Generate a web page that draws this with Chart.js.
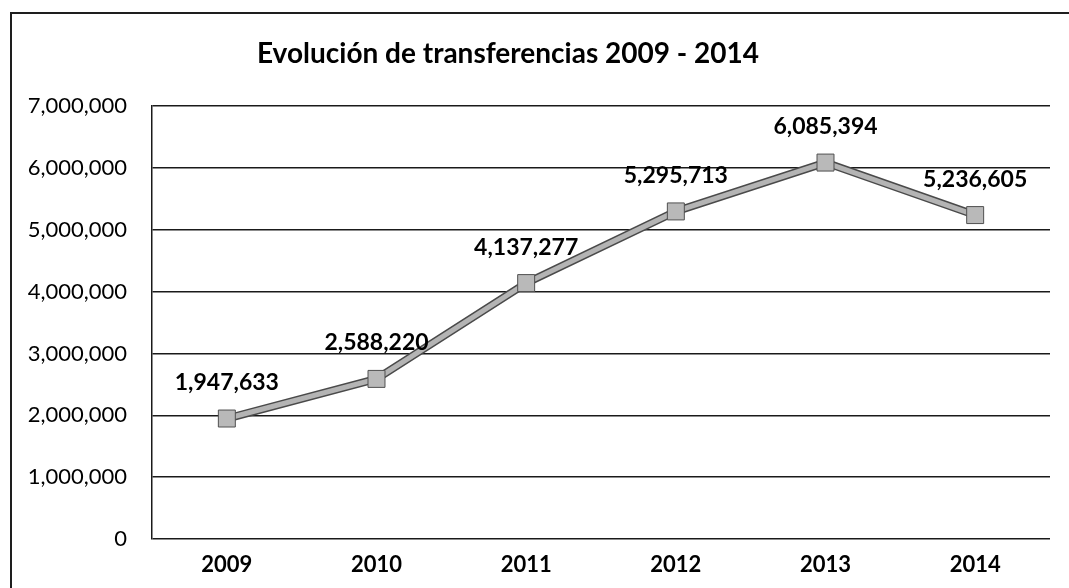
<!DOCTYPE html>
<html>
<head>
<meta charset="utf-8">
<title>Evolución de transferencias</title>
<script src="https://cdn.jsdelivr.net/npm/chart.js@4/dist/chart.umd.min.js"></script>
<style>
    body { margin: 0; background: #fff; overflow: hidden; }
    #frame {
        position: absolute;
        left: 10px;
        top: 12px;
        width: 1100px;
        height: 620px;
        border-left: 2px solid #1e1e1e;
        border-top: 2px solid #1e1e1e;
    }
    #chart { position: absolute; left: 0; top: 0; }
</style>
</head>
<body>
<div id="frame"></div>
<canvas id="chart" width="1069" height="588"></canvas>
<script>
    var years = ['2009', '2010', '2011', '2012', '2013', '2014'];
    var transferencias = [1947633, 2588220, 4137277, 5295713, 6085394, 5236605];
    var yTicks = [0, 1000000, 2000000, 3000000, 4000000, 5000000, 6000000, 7000000];

    var titleText = 'Evolución de transferencias 2009 - 2014';

    function formatNumber(n) {
        return n.toLocaleString('en-US');
    }

    // title sits a bit left of the plot centre
    var titlePlugin = {
        id: 'titleText',
        afterDraw: function (chart) {
            var ctx = chart.ctx;
            ctx.save();
            ctx.fillStyle = '#000';
            ctx.font = 'bold 28px Lato';
            ctx.textAlign = 'center';
            ctx.textBaseline = 'alphabetic';
            ctx.fillText(titleText, 508, 63);
            ctx.restore();
        }
    };

    // dark edge under the grey line
    var lineEdge = {
        id: 'lineEdge',
        beforeDatasetDraw: function (chart, args) {
            var pts = args.meta.data;
            var ctx = chart.ctx;
            ctx.save();
            ctx.strokeStyle = '#4a4a4a';
            ctx.lineWidth = 8;
            ctx.lineJoin = 'round';
            ctx.beginPath();
            pts.forEach(function (p, i) {
                if (i == 0) ctx.moveTo(p.x, p.y);
                else ctx.lineTo(p.x, p.y);
            });
            ctx.stroke();
            ctx.restore();
        }
    };

    var valueLabels = {
        id: 'valueLabels',
        afterDatasetsDraw: function (chart) {
            var ctx = chart.ctx;
            var meta = chart.getDatasetMeta(0);
            ctx.save();
            ctx.fillStyle = '#000';
            ctx.font = 'bold 23px Lato';
            ctx.textAlign = 'center';
            ctx.textBaseline = 'middle';
            meta.data.forEach(function (p, i) {
                ctx.fillText(formatNumber(transferencias[i]), p.x, p.y - 36);
            });
            ctx.restore();
        }
    };

    new Chart(document.getElementById('chart').getContext('2d'), {
        type: 'line',
        data: {
            labels: years,
            datasets: [
                {
                    label: 'Transferencias',
                    data: transferencias,
                    borderColor: '#b4b4b4',
                    borderWidth: 5,
                    tension: 0,
                    pointStyle: 'rect',
                    pointRadius: 12,
                    pointHoverRadius: 12,
                    pointBackgroundColor: '#b9b9b9',
                    pointBorderColor: '#505050',
                    pointBorderWidth: 1
                }
            ]
        },
        options: {
            responsive: false,
            animation: false,
            devicePixelRatio: 1,
            layout: {
                padding: {left: 0, top: 106, right: 19, bottom: 0}
            },
            plugins: {
                legend: {display: false},
                title: {display: false},
                tooltip: {enabled: false}
            },
            scales: {
                x: {
                    offset: true,
                    grid: {display: false},
                    border: {display: false},
                    ticks: {
                        color: '#000',
                        font: {family: 'Lato', size: 22, weight: 'bold'},
                        padding: 5
                    },
                    afterFit: function (scale) {
                        scale.height = 49;
                    }
                },
                y: {
                    min: 0,
                    max: 7000000,
                    afterBuildTicks: function (scale) {
                        scale.ticks = yTicks.map(function (v) { return {value: v}; });
                    },
                    grid: {
                        color: '#1a1a1a',
                        lineWidth: 1.5,
                        drawTicks: false
                    },
                    border: {display: true, color: '#1a1a1a', width: 1.5},
                    ticks: {
                        color: '#000',
                        font: {family: 'Lato', size: 22},
                        padding: 25,
                        callback: function (v) {
                            return formatNumber(v);
                        }
                    },
                    afterFit: function (scale) {
                        scale.width = 152;
                    }
                }
            }
        },
        plugins: [lineEdge, valueLabels, titlePlugin]
    });
</script>
</body>
</html>
